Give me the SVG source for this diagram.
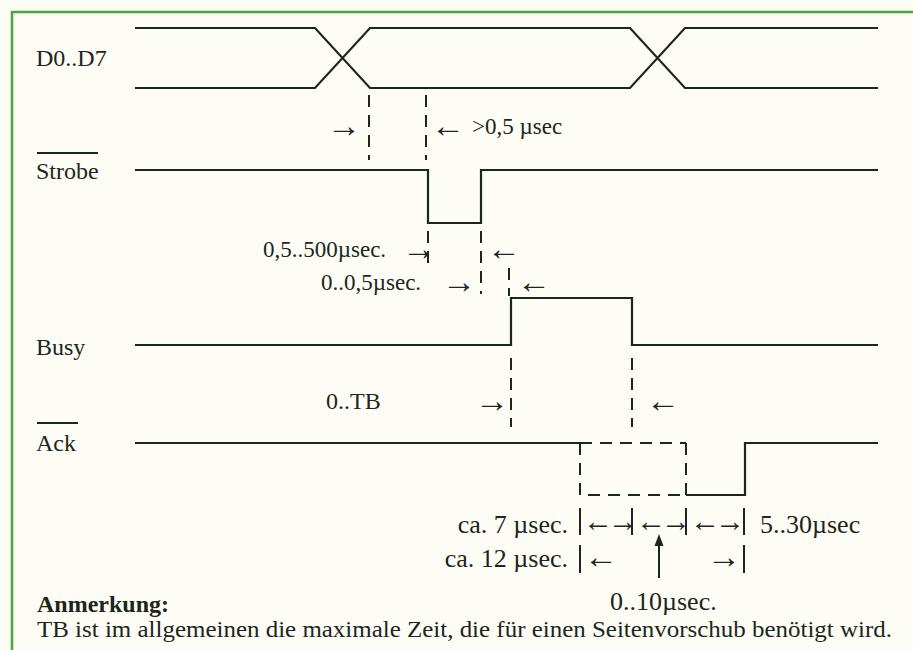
<svg xmlns="http://www.w3.org/2000/svg" width="913" height="650" viewBox="0 0 913 650">
<style>
.sig{fill:none;stroke:#1c261c;stroke-width:2.2;stroke-linejoin:miter}
.dash{fill:none;stroke:#1c261c;stroke-width:2;stroke-dasharray:12 8}
.bar{stroke:#1c261c;stroke-width:2}
text{font-family:"Liberation Serif","Times New Roman",serif;fill:#1c261c}
.lbl{font-size:24px}
.m{font-size:23px}
.b{font-size:26px}
.ar{font-size:34px}
.pr{font-size:30px;letter-spacing:-5px}
</style>
<rect x="0" y="0" width="913" height="650" fill="#fdfdf6"/>
<path d="M12,650 V12 H913" fill="none" stroke="#4aa83a" stroke-width="2.5"/>

<g id="d0d7">
<text class="lbl" x="36" y="66">D0..D7</text>
<path class="sig" d="M135,28 H315 L370,88 H630 L685,28 H878"/>
<path class="sig" d="M135,88 H315 L370,28 H630 L685,88 H878"/>
</g>

<g id="strobe">
<text class="lbl" x="36" y="179">Strobe</text>
<line class="bar" x1="37" y1="153" x2="98" y2="153"/>
<path class="sig" d="M135,170 H428 V223 H481 V170 H878"/>
</g>

<g id="busy">
<text class="lbl" x="36" y="355">Busy</text>
<path class="sig" d="M135,345 H511 V298 H632 V345 H878"/>
</g>

<g id="ack">
<text class="lbl" x="36" y="451">Ack</text>
<line class="bar" x1="37" y1="423" x2="78" y2="423"/>
<path class="sig" d="M135,443 H580"/>
<path class="dash" d="M580,443 H686 M580,443 V495 H686 M686,443 V495"/>
<path class="sig" d="M686,495 H745 V443 H878"/>
</g>

<g id="connectors">
<line class="dash" x1="369" y1="95" x2="369" y2="160"/>
<line class="dash" x1="426" y1="95" x2="426" y2="160"/>
<line class="dash" x1="428" y1="231" x2="428" y2="266" stroke-dasharray="8 6"/>
<line class="dash" x1="481" y1="231" x2="481" y2="294" stroke-dasharray="8 6"/>
<line class="dash" x1="509" y1="268" x2="509" y2="296" stroke-dasharray="8 6"/>
<line class="dash" x1="511" y1="358" x2="511" y2="427" stroke-dasharray="12 7"/>
<line class="dash" x1="632" y1="358" x2="632" y2="427" stroke-dasharray="12 7"/>
<line class="bar" x1="580" y1="508" x2="580" y2="535"/>
<line class="bar" x1="632" y1="508" x2="632" y2="535"/>
<line class="bar" x1="686" y1="508" x2="686" y2="535"/>
<line class="bar" x1="744" y1="508" x2="744" y2="535"/>
<line class="bar" x1="580" y1="545" x2="580" y2="573"/>
<line class="bar" x1="744" y1="545" x2="744" y2="573"/>
<line class="bar" x1="659" y1="540" x2="659" y2="578"/>
<path d="M659,534 L654.5,546 H663.5 Z" fill="#1c261c"/>
</g>

<g id="labels">
<text class="ar" x="327" y="137">→</text>
<text class="ar" x="431" y="137">←</text>
<text class="m" x="472" y="134">&gt;0,5 µsec</text>
<text class="m" x="263" y="257">0,5..500µsec.</text>
<text class="ar" x="402" y="260">→</text>
<text class="ar" x="487" y="260">←</text>
<text class="m" x="321" y="290">0..0,5µsec.</text>
<text class="ar" x="442" y="293">→</text>
<text class="ar" x="517" y="293">←</text>
<text class="lbl" x="326" y="409">0..TB</text>
<text class="ar" x="475" y="412">→</text>
<text class="ar" x="646" y="412">←</text>
<text class="b" x="568" y="533" text-anchor="end">ca. 7 µsec.</text>
<text class="pr" x="583" y="531">←→</text>
<text class="pr" x="636" y="531">←→</text>
<text class="pr" x="690" y="531">←→</text>
<text class="b" x="760" y="533">5..30µsec</text>
<text class="b" x="568" y="567" text-anchor="end">ca. 12 µsec.</text>
<text class="ar" x="584" y="568">←</text>
<text class="ar" x="741" y="568" text-anchor="end">→</text>
<text class="b" x="610" y="610">0..10µsec.</text>
<text class="lbl" x="37" y="612" font-weight="bold">Anmerkung:</text>
<text class="lbl" x="37" y="637" textLength="855" lengthAdjust="spacingAndGlyphs">TB ist im allgemeinen die maximale Zeit, die für einen Seitenvorschub benötigt wird.</text>
</g>
</svg>
